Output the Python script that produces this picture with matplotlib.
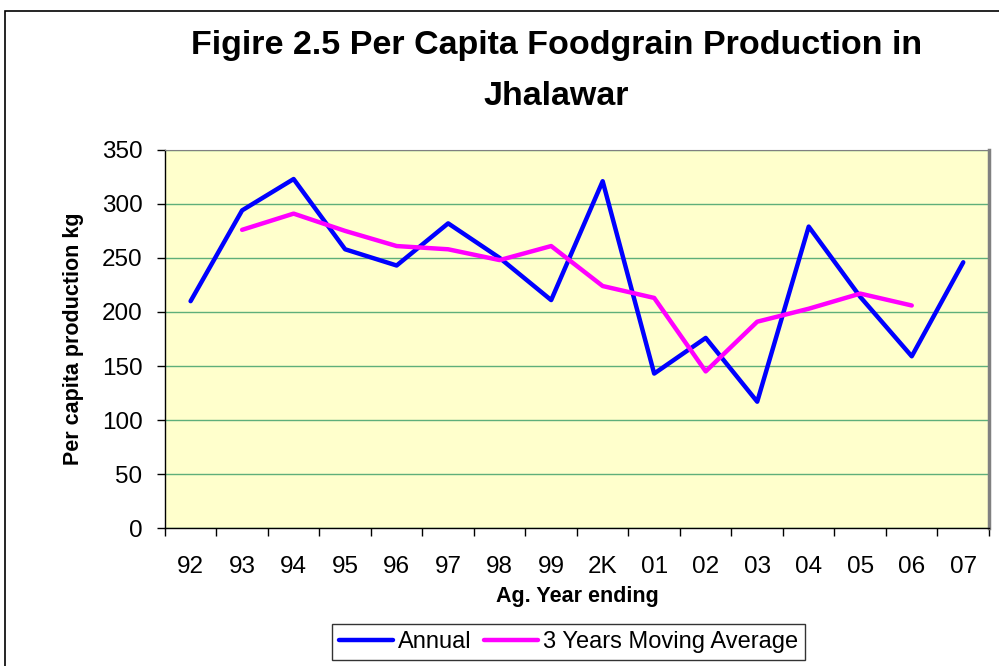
import matplotlib
matplotlib.use('Agg')
import matplotlib.pyplot as plt
import numpy as np

plt.rcParams['font.family'] = ['Liberation Sans', 'DejaVu Sans']

years = ['92', '93', '94', '95', '96', '97', '98', '99', '2K', '01',
         '02', '03', '04', '05', '06', '07']
annual = [210, 294, 323, 258, 243, 282, 250, 211, 321, 143,
          176, 117, 279, 214, 159, 246]
# 3-year moving average, centred (no value for first and last year)
moving_avg = [None, 276, 291, 275, 261, 258, 248, 261, 224, 213,
              145, 191, 203, 217, 206, None]

fig = plt.figure(figsize=(9.99, 6.66), dpi=100)
ax = fig.add_axes([0.165, 0.207, 0.825, 0.568])
ax.set_facecolor('#FFFFCC')

x = np.arange(len(years))
ma = np.array([np.nan if v is None else v for v in moving_avg], dtype=float)
ax.plot(x, annual, color='#0000FF', lw=3.2, label='Annual', solid_capstyle='round')
ax.plot(x, ma, color='#FF00FF', lw=3.2, label='3 Years Moving Average',
        solid_capstyle='round')

ax.set_ylim(0, 350)
ax.set_yticks(range(0, 351, 50))
ax.set_xlim(-0.5, len(years) - 0.5)
ax.set_xticks(np.arange(-0.5, len(years), 1.0))
ax.set_xticklabels([])
ax.set_xticks(x, minor=True)
ax.set_xticklabels(years, minor=True)
ax.tick_params(axis='x', which='major', length=6, width=1, direction='out')
ax.tick_params(axis='x', which='minor', length=0, pad=20, labelsize=17.5)
ax.tick_params(axis='y', length=6, width=1, direction='out', labelsize=17.5, pad=10)

ax.yaxis.grid(True, color='#5FAF7A', lw=1)
ax.set_axisbelow(True)
for s in ['left', 'bottom']:
    ax.spines[s].set_color('black')
    ax.spines[s].set_linewidth(1)
ax.spines['top'].set_color('#808080')
ax.spines['right'].set_color('#808080')
ax.spines['right'].set_linewidth(2.5)

ax.set_xlabel('Ag. Year ending', fontsize=15.5, fontweight='bold', labelpad=6)
ax.set_ylabel('Per capita production kg', fontsize=15.5, fontweight='bold', labelpad=13)

fig.text(0.557, 0.932, 'Figire 2.5 Per Capita Foodgrain Production in',
         ha='center', va='center', fontsize=24.5, fontweight='bold')
fig.text(0.557, 0.855, 'Jhalawar', ha='center', va='center',
         fontsize=24.5, fontweight='bold')

leg = fig.legend(loc='center', bbox_to_anchor=(0.569, 0.036), ncol=2,
                 fontsize=17, frameon=True, fancybox=False, handlelength=2.3,
                 handletextpad=0.2, columnspacing=0.5, borderpad=0.3)
leg.get_frame().set_edgecolor('black')
leg.get_frame().set_linewidth(1)

# chart border
fig.patches.append(plt.Rectangle((0.005, -0.01), 1.2, 0.993, transform=fig.transFigure,
                                 fill=False, edgecolor='black', lw=1.2))

fig.savefig('out.png', dpi=100)
